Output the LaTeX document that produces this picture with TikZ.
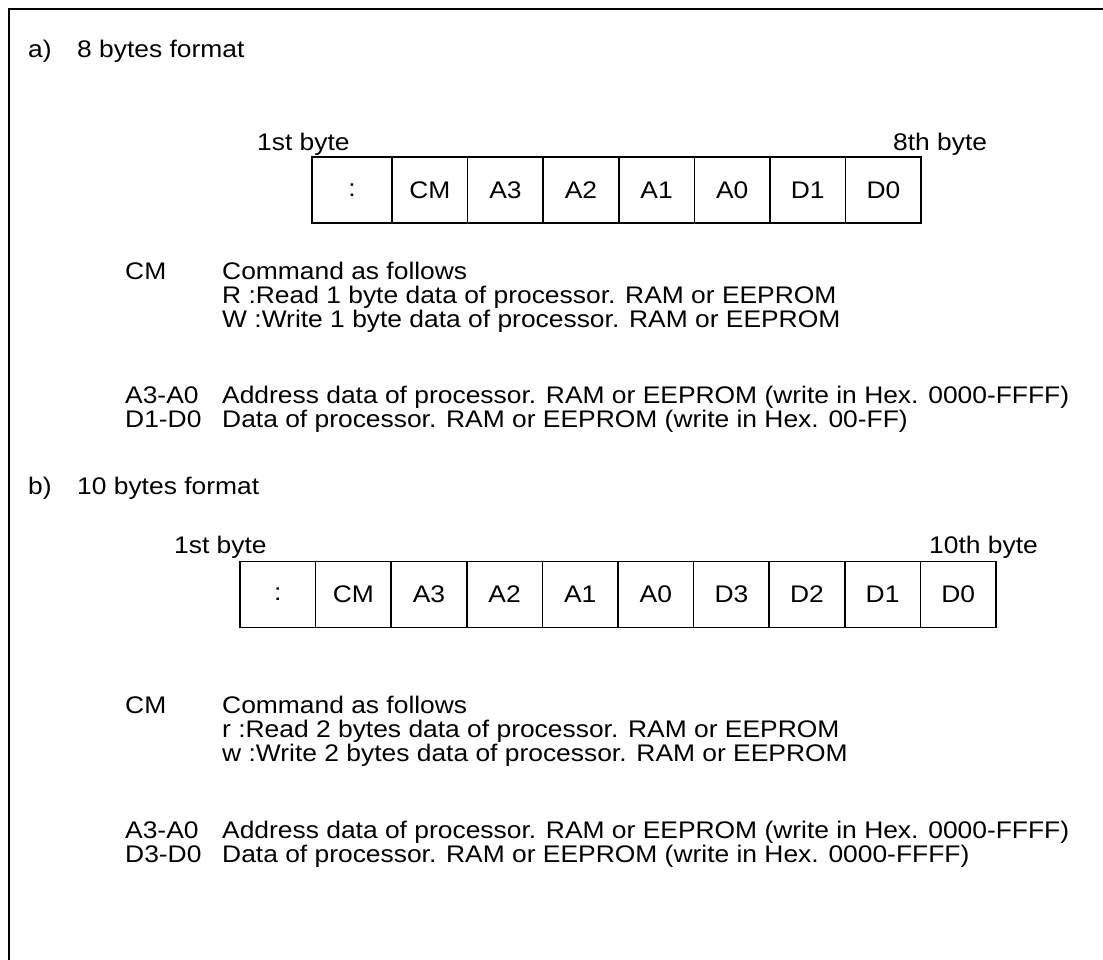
\documentclass[tikz,border=0pt]{standalone}
\usepackage{fontspec}
\setmainfont{Liberation Sans}[FakeStretch=1.1]
\usetikzlibrary{positioning}
\tikzstyle{cell} = [draw,line width=1.5pt,minimum width=75.6pt,minimum height=66pt,inner sep=0pt,outer sep=0pt]
\tikzstyle{txt} = [inner sep=0pt,anchor=base west]
\tikzstyle{frame} = [draw,line width=1.5pt]

\begin{document}
\begin{tikzpicture}[x=1pt,y=-1pt,font=\fontsize{24}{24}\selectfont]
    \useasboundingbox (0,0) rectangle (1103,960);
    \draw[frame] (1103,9) -- (9,9) -- (9,960);

    % a) 8 bytes
    \node[txt] (alab) at (28,58) {a)};
    \node[txt] (atitle) at (77,58) {8 bytes format};
    \node[txt] (afirst) at (257,151) {1st byte};
    \node[txt] (alast) at (893,151) {8th byte};

    \node[cell,minimum width=80pt,anchor=west] (acol) at (312,190) {:};
    \node[cell,right=0pt of acol] (acm) {CM};
    \node[cell,right=0pt of acm] (aa3) {A3};
    \node[cell,right=0pt of aa3] (aa2) {A2};
    \node[cell,right=0pt of aa2] (aa1) {A1};
    \node[cell,right=0pt of aa1] (aa0) {A0};
    \node[cell,right=0pt of aa0] (ad1) {D1};
    \node[cell,right=0pt of ad1] (ad0) {D0};

    \node[txt] (acmkey) at (125,279) {CM};
    \node[txt] (acmtxt) at (222,279) {Command as follows};
    \node[txt] (aread) at (222,303) {R :Read 1 byte data of processor. RAM or EEPROM};
    \node[txt] (awrite) at (222,327) {W :Write 1 byte data of processor. RAM or EEPROM};
    \node[txt] (aadrkey) at (125,403) {A3-A0};
    \node[txt] (aadrtxt) at (222,403) {Address data of processor. RAM or EEPROM (write in Hex. 0000-FFFF)};
    \node[txt] (adatkey) at (125,427) {D1-D0};
    \node[txt] (adattxt) at (222,427) {Data of processor. RAM or EEPROM (write in Hex. 00-FF)};

    % b) 10 bytes
    \node[txt] (blab) at (28,494) {b)};
    \node[txt] (btitle) at (77,494) {10 bytes format};
    \node[txt] (bfirst) at (174,553) {1st byte};
    \node[txt] (blast) at (929,553) {10th byte};

    \node[cell,anchor=west] (bcol) at (240,594.5) {:};
    \node[cell,right=0pt of bcol] (bcm) {CM};
    \node[cell,right=0pt of bcm] (ba3) {A3};
    \node[cell,right=0pt of ba3] (ba2) {A2};
    \node[cell,right=0pt of ba2] (ba1) {A1};
    \node[cell,right=0pt of ba1] (ba0) {A0};
    \node[cell,right=0pt of ba0] (bd3) {D3};
    \node[cell,right=0pt of bd3] (bd2) {D2};
    \node[cell,right=0pt of bd2] (bd1) {D1};
    \node[cell,right=0pt of bd1] (bd0) {D0};

    \node[txt] (bcmkey) at (125,713) {CM};
    \node[txt] (bcmtxt) at (222,713) {Command as follows};
    \node[txt] (bread) at (222,737) {r :Read 2 bytes data of processor. RAM or EEPROM};
    \node[txt] (bwrite) at (222,761) {w :Write 2 bytes data of processor. RAM or EEPROM};
    \node[txt] (badrkey) at (125,838) {A3-A0};
    \node[txt] (badrtxt) at (222,838) {Address data of processor. RAM or EEPROM (write in Hex. 0000-FFFF)};
    \node[txt] (bdatkey) at (125,862) {D3-D0};
    \node[txt] (bdattxt) at (222,862) {Data of processor. RAM or EEPROM (write in Hex. 0000-FFFF)};
\end{tikzpicture}
\end{document}
